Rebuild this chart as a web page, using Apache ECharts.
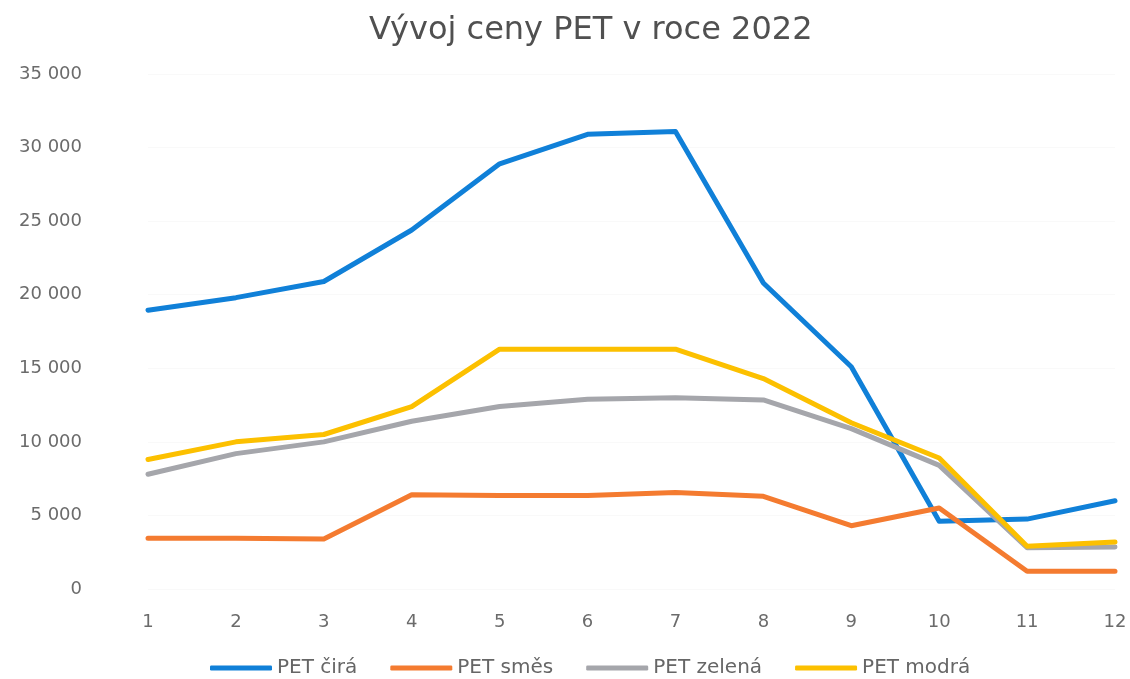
<!DOCTYPE html>
<html>
<head>
<meta charset="utf-8">
<script src="https://cdn.jsdelivr.net/npm/echarts@6/dist/echarts.min.js"></script>
<style>html,body{margin:0;padding:0;background:#fff;}#c{width:1130px;height:679px;}</style>
</head>
<body>
<div id="c"></div>
<script>
const months = ['1','2','3','4','5','6','7','8','9','10','11','12'];
const petCira = [18950, 19800, 20900, 24400, 28900, 30900, 31100, 20800, 15100, 4600, 4750, 6000];
const petSmes = [3450, 3450, 3400, 6400, 6350, 6350, 6550, 6300, 4300, 5500, 1200, 1200];
const petZelena = [7800, 9200, 10000, 11400, 12400, 12900, 13000, 12850, 10900, 8400, 2800, 2850];
const petModra = [8800, 10000, 10500, 12400, 16300, 16300, 16300, 14300, 11300, 8900, 2900, 3200];
const yTicks = {min: 0, max: 35000, interval: 5000};

const chart = echarts.init(document.getElementById('c'));
const fmt = v => v === 0 ? '0' : String(v).replace(/\B(?=(\d{3})+(?!\d))/g, ' ');
const mk = (name, data, color) => ({
  name, type: 'line', data, symbol: 'none', smooth: false,
  lineStyle: {width: 5, color, cap: 'round', join: 'round'},
  itemStyle: {color}
});
const FONT = 'DejaVu Sans';
chart.setOption({
  backgroundColor: '#fff',
  textStyle: {fontFamily: FONT},
  title: {
    text: 'Vývoj ceny PET v roce 2022', left: 364, top: 10,
    textStyle: {fontSize: 32, fontWeight: 'normal', color: '#505050', fontFamily: FONT}
  },
  legend: {
    top: 653, left: 205, itemWidth: 62, itemHeight: 5, itemGap: 33,
    icon: 'roundRect',
    textStyle: {fontSize: 20, color: '#666666', fontFamily: FONT},
    data: ['PET čirá', 'PET směs', 'PET zelená', 'PET modrá']
  },
  grid: {left: 148, right: 15, top: 74, bottom: 90, containLabel: false},
  xAxis: {
    type: 'category', data: months, boundaryGap: false,
    axisLine: {show: false}, axisTick: {show: false},
    axisLabel: {fontSize: 18, color: '#6b6b6b', margin: 24}
  },
  yAxis: {
    type: 'value', min: yTicks.min, max: yTicks.max, interval: yTicks.interval,
    axisLine: {show: false}, axisTick: {show: false},
    splitLine: {show: true, lineStyle: {color: '#f9f9f9'}},
    axisLabel: {fontSize: 18, color: '#6b6b6b', margin: 66, formatter: fmt}
  },
  series: [
    mk('PET čirá', petCira, '#1080d8'),
    mk('PET směs', petSmes, '#f47b30'),
    mk('PET zelená', petZelena, '#a5a6ab'),
    mk('PET modrá', petModra, '#fcc000')
  ]
});
</script>
</body>
</html>
